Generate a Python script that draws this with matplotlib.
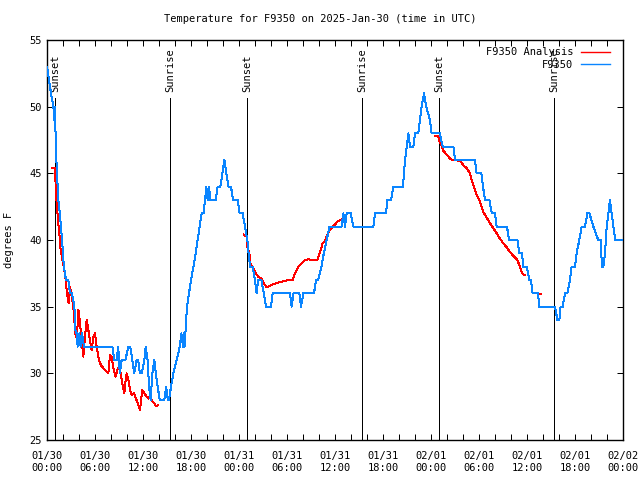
import numpy as np
import matplotlib
matplotlib.use('Agg')
import matplotlib.pyplot as plt
import matplotlib.dates as mdates

# hours after 2025-01-30 00:00 UTC
blue_hours = [0.0, 0.5, 0.8, 0.9, 1.0, 1.1, 1.25, 1.42, 1.6, 1.75, 1.875, 2.0, 2.1,
              2.375, 2.67, 2.875, 3.125, 3.42, 3.58, 3.71, 3.83, 4.04, 4.2, 4.375, 4.625,
              8.17, 8.42, 8.7, 8.9, 9.1, 9.33, 9.8, 10.17, 10.4, 10.67, 10.9, 11.2, 11.4,
              11.6, 11.83, 12.17, 12.33, 12.58, 12.75, 12.96, 13.17, 13.42, 13.6, 13.83,
              14.1, 14.33, 14.67, 14.9, 15.1, 15.25, 15.5, 15.8, 16.2, 16.6, 16.8, 17.0,
              17.1, 17.2, 17.4, 17.5, 17.75, 18.0, 18.3, 18.58, 18.83, 19.08, 19.33, 19.58,
              19.75, 19.92, 20.08, 20.25, 20.42, 20.67, 21.08, 21.33, 21.67, 21.92, 22.17,
              22.42, 22.67, 23.0, 23.25, 23.83, 24.08, 24.46, 24.75, 25.04, 25.2, 25.375,
              25.7, 26.0, 26.2, 26.4, 26.8, 27.1, 27.375, 28.0, 28.2, 28.7, 30.375, 30.58,
              30.8, 31.54, 31.75, 32.04, 33.375, 33.625, 33.9, 34.3, 34.6, 34.96, 35.3,
              36.83, 37.04, 37.25, 37.46, 37.96, 38.3, 40.8, 41.0, 42.375, 42.54, 43.0,
              43.29, 44.5, 44.75, 44.96, 45.17, 45.375, 45.8, 46.0, 46.4, 46.625, 46.83,
              47.125, 47.4, 47.875, 48.08, 49.1, 49.46, 50.8, 51.0, 53.5, 53.7, 54.3, 54.5,
              54.75, 55.3, 55.6, 56.0, 56.2, 57.5, 57.75, 58.8, 59.04, 59.4, 59.5, 59.96,
              60.3, 60.5, 60.7, 61.4, 61.5, 63.5, 63.8, 64.04, 64.2, 64.46, 64.75, 65.04,
              65.375, 65.58, 66.0, 66.2, 66.54, 66.83, 67.25, 67.54, 67.8, 68.3, 68.9,
              69.2, 69.375, 69.54, 69.75, 69.96, 70.17, 70.375, 70.58, 70.8, 71.04, 71.83]
blue_temp = [53, 51, 50, 49, 50, 47, 45, 43, 42, 41, 40, 39, 38,
             37, 37, 36, 36, 35, 33, 33, 32, 33, 32, 33, 32,
             32, 31, 31, 32, 30, 31, 31, 32, 32, 31, 30, 31, 31,
             30, 30, 31, 32, 31, 29, 28, 30, 31, 30, 29,
             28, 28, 28, 29, 28, 28, 29, 30, 31, 32, 33, 32,
             33, 32, 34, 35, 36, 37, 38, 39, 40, 41, 42, 42,
             43, 44, 43, 44, 43, 43, 43, 44, 44, 45, 46,
             45, 44, 44, 43, 43, 42, 42, 41, 40, 39, 38,
             38, 37, 36, 37, 37, 36, 35, 35, 36, 36, 36, 35,
             36, 36, 35, 36, 36, 37, 37, 38, 39, 40, 41,
             41, 42, 41, 42, 42, 41, 41, 42, 42, 43, 43,
             44, 44, 46, 47, 48, 47, 47, 48, 48, 49, 50,
             51, 50, 49, 48, 48, 47, 47, 46, 46, 45, 45, 44,
             43, 43, 42, 42, 41, 41, 40, 40, 39, 39, 38, 38,
             37, 37, 36, 36, 35, 35, 34, 34, 35, 35, 36, 36,
             37, 38, 38, 39, 40, 41, 41, 42, 42, 41, 40,
             40, 38, 38, 39, 41, 42, 43, 42, 41, 40, 40]

nan = np.nan
red_hours = [0.6, 0.95, 1.05, 1.2, 1.375, 1.54, 1.71, 1.9, 2.1, 2.29, 2.46, 2.7, 2.875,
             3.08, 3.29, 3.375, 3.58, 3.79, 3.92, 4.04, 4.2, 4.375, 4.54, 4.75, 4.96,
             5.17, 5.375, 5.58, 5.79, 6.0, 6.2, 6.5, 6.75, 7.04, 7.46, 7.67, 7.875, 8.08,
             8.3, 8.58, 8.8, 9.0, 9.2, 9.46, 9.67, 9.83, 9.96, 10.17, 10.375, 10.58, 10.9,
             11.125, 11.42, 11.625, 11.9, 12.17, 12.46, 12.67, 12.875, 13.17, 13.42,
             13.625, 13.9, nan,
             24.6, 24.96, 25.04, 25.29, 25.46, 25.7, 26.0, 26.4, 26.8, 27.1, 27.46, 27.875,
             28.29, 28.9, 29.75, 30.375, 30.7, 31.0, 31.4, 31.83, 32.25, 32.67, 33.29,
             33.79, 34.125, 34.46, 34.75, 35.04, 35.3, 35.7, 36.125, 36.4, 36.83, 37.2, nan,
             48.5, 48.9, 49.04, 49.33, 49.54, 49.96, 50.46, 51.0, 51.7, 52.04, 52.46,
             52.875, 53.08, 53.375, 53.7, 54.04, 54.33, 54.54, 55.04, 55.375, 55.79, 56.2,
             56.625, 57.04, 57.46, 57.875, 58.375, 58.79, 59.125, 59.33, 59.54, 59.75, nan,
             61.5, 61.8]
red_temp = [45.4, 45.4, 44.5, 42.8, 41.5, 40.5, 39.2, 38.6, 38.0, 37.25, 36.2, 35.25, 36.5,
            35.75, 35.0, 34.25, 32.75, 33.25, 34.75, 34.25, 33.25, 32.25, 31.25, 32.75, 34.0,
            33.25, 32.5, 31.75, 32.75, 33.0, 32.0, 31.0, 30.6, 30.4, 30.1, 30.0, 31.4, 31.25,
            30.4, 29.75, 30.25, 30.5, 30.0, 29.1, 28.5, 29.5, 30.0, 29.5, 28.75, 28.4, 28.5,
            28.1, 27.6, 27.25, 28.75, 28.5, 28.25, 28.1, 28.3, 27.9, 27.75,
            27.55, 27.6, nan,
            40.4, 40.25, 39.5, 39.0, 38.1, 37.95, 37.6, 37.25, 37.1, 36.75, 36.45, 36.55,
            36.7, 36.8, 36.95, 37.0, 37.0, 37.5, 38.0, 38.25, 38.5, 38.55, 38.5,
            38.5, 39.1, 39.75, 39.9, 40.4, 40.75, 41.0, 41.25, 41.45, 41.5, 41.75, nan,
            47.8, 47.8, 47.45, 47.05, 46.7, 46.4, 46.05, 46.0, 45.9, 45.6, 45.4,
            45.0, 44.5, 44.0, 43.4, 43.0, 42.45, 42.1, 41.6, 41.25, 40.9, 40.5,
            40.1, 39.75, 39.45, 39.1, 38.75, 38.5, 38.0, 37.6, 37.4, 37.4, nan,
            35.95, 35.95]

sun_hours = [1.0, 15.375, 25.0, 39.4, 49.0, 63.4]
sun_labels = ['Sunset', 'Sunrise', 'Sunset', 'Sunrise', 'Sunset', 'Sunrise']

start = np.datetime64('2025-01-30T00:00')


def to_time(hours):
    out = []
    for h in hours:
        if np.isnan(h):
            out.append(np.datetime64('NaT'))
        else:
            out.append(start + np.timedelta64(int(round(h * 3600)), 's'))
    return np.array(out, dtype='datetime64[s]')


plt.rcParams['font.family'] = ['DejaVu Sans Mono']
plt.rcParams['font.size'] = 7.5

fig = plt.figure(figsize=(6.4, 4.8), dpi=100)
ax = fig.add_axes([47 / 640, 40 / 480, 576 / 640, 400 / 480])

# 0.72 pt = one pixel at 100 dpi
lw = 0.72

for h, lab in zip(sun_hours, sun_labels):
    t = to_time([h])[0]
    ax.plot([t, t], [25, 50.65], color='black', lw=lw, zorder=1, antialiased=False)
    ax.text(t, 51.1, lab, rotation=90, ha='center', va='bottom', fontsize=7.5)

red_t = to_time(red_hours)
ax.plot(red_t, red_temp, color='#ff0000', lw=lw, label='F9350 Analysis', zorder=2,
        antialiased=False)
ax.plot(to_time(blue_hours), blue_temp, color='#0a85ff', lw=lw, label='F9350', zorder=3,
        antialiased=False)

ax.set_xlim(start, start + np.timedelta64(72, 'h'))
ax.set_ylim(25, 55)
ax.set_yticks(range(25, 56, 5))
ax.xaxis.set_major_locator(mdates.HourLocator(byhour=range(0, 24, 6)))
ax.xaxis.set_minor_locator(mdates.HourLocator(byhour=range(0, 24, 2)))
ax.xaxis.set_major_formatter(mdates.DateFormatter('%m/%d\n%H:%M'))
ax.tick_params(which='both', direction='in', top=True, right=True, length=4, width=lw)
ax.tick_params(axis='x', pad=8)
for s in ax.spines.values():
    s.set_linewidth(1.0)

ax.set_ylabel('degrees F', labelpad=11)
fig.text(0.5, 1 - 19 / 480, 'Temperature for F9350 on 2025-Jan-30 (time in UTC)',
         ha='center', va='center', fontsize=7.5)

leg = ax.legend(loc='upper right', frameon=False, markerfirst=False, handlelength=2.8,
                handletextpad=0.7, labelspacing=0.25, borderaxespad=0.3,
                bbox_to_anchor=(0.99, 1.0))
for line in leg.get_lines():
    line.set_linewidth(1.0)

fig.savefig('out.png', dpi=100)
